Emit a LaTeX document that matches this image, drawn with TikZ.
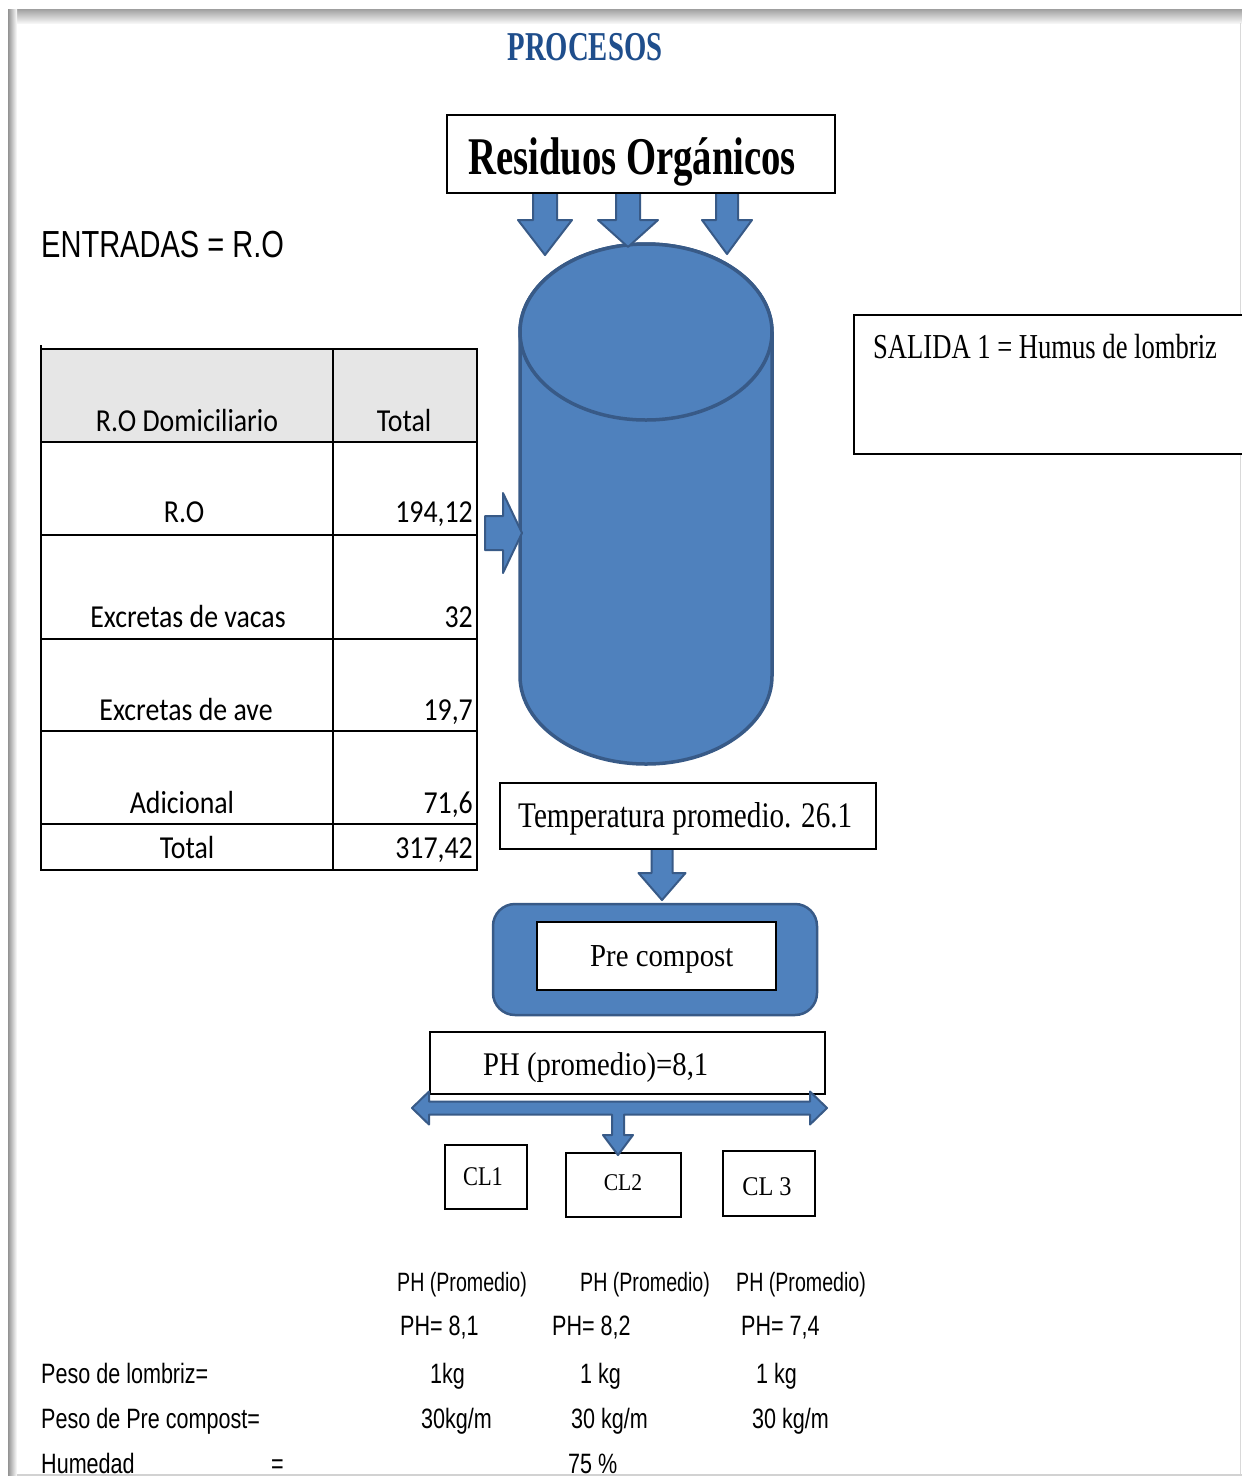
\documentclass[tikz,border=0pt]{standalone}
\usepackage{fontspec}
\usepackage{graphicx}
\setmainfont{Liberation Serif}
\newfontfamily\arialf{Liberation Sans}
\newfontfamily\calib{Carlito}
\usetikzlibrary{calc}
\definecolor{ofblue}{HTML}{4F81BD}
\definecolor{ofborder}{HTML}{385A87}
\definecolor{titblue}{HTML}{1F4E8C}
\definecolor{hdrgray}{HTML}{E6E6E6}
\newcommand\fs[1]{\fontsize{#1}{#1}\selectfont}
\newcommand\sx[2]{\scalebox{#1}[1]{#2}}
\newcommand\darrow[5]{\draw[blk] let \p1=(#1), \p2=(#2) in (\x1-#3pt,\y1) -- (\x1+#3pt,\y1) -- (\x1+#3pt,\y2+#5pt) -- (\x1+#4pt,\y2+#5pt) -- (\x2,\y2) -- (\x1-#4pt,\y2+#5pt) -- (\x1-#3pt,\y2+#5pt) -- cycle;}
\newcommand\rarrow[5]{\draw[blk] let \p1=(#1), \p2=(#2) in (\x1,\y1+#3pt) -- (\x2-#5pt,\y1+#3pt) -- (\x2-#5pt,\y1+#4pt) -- (\x2,\y2) -- (\x2-#5pt,\y1-#4pt) -- (\x2-#5pt,\y1-#3pt) -- (\x1,\y1-#3pt) -- cycle;}
\tikzset{
  box/.style={draw=black, line width=1.8pt, fill=white, inner sep=0pt},
  blk/.style={fill=ofblue, draw=ofborder, line width=2pt, line join=round},
  lbl/.style={inner sep=0pt, anchor=base west},
  lblc/.style={inner sep=0pt, anchor=base},
  lble/.style={inner sep=0pt, anchor=base east},
  bot/.style={inner sep=0pt, anchor=base west, font=\arialf\fs{28}},
}
\begin{document}
\begin{tikzpicture}[x=1pt,y=1pt]
\useasboundingbox (0,0) rectangle (1242,-1476);
\fill[white] (0,0) rectangle (1242,-1476);
% page edge
\shade[top color=gray!75, bottom color=gray!8] (8,-9) rectangle (1242,-23);
\shade[left color=gray!85, right color=white] (8,-9) rectangle (17,-1476);
\draw[gray!30, line width=1pt] (1240.5,-23) -- (1240.5,-1476);
\draw[gray!35, line width=1.5pt] (17,-1475) -- (1242,-1475);

% title
\node[lblc] (title) at (585,-60) {\fs{41}\bfseries\color{titblue}\sx{0.70}{PROCESOS}};

% entradas
\node[lbl] (ent) at (41,-257) {\arialf\fs{37.7}\sx{0.77}{ENTRADAS = R.O}};

% cylinder
\draw[fill=ofblue, draw=ofborder, line width=3.5pt] (520,-332) -- (520,-676)
  arc[start angle=180, end angle=360, x radius=126pt, y radius=88pt]
  -- (772,-332) arc[start angle=0, end angle=180, x radius=126pt, y radius=88pt] -- cycle;
\draw[fill=ofblue, draw=ofborder, line width=3.5pt] (646,-332) ellipse[x radius=126pt, y radius=88pt];
\coordinate (cyl) at (646,-500);

% arrows from Residuos box
\coordinate (a1s) at (545,-185); \coordinate (a1e) at (545,-255);
\coordinate (a2s) at (628,-185); \coordinate (a2e) at (628,-247);
\coordinate (a3s) at (727,-185); \coordinate (a3e) at (727,-254);
\darrow{a1s}{a1e}{12}{27}{35}
\darrow{a2s}{a2e}{12}{30}{27}
\darrow{a3s}{a3e}{11}{25}{34}

% Residuos box
\node[box, minimum width=388pt, minimum height=78pt] (res) at (641,-154) {};
\node[lbl] (resT) at (468,-174) {\fs{53}\bfseries\sx{0.73}{Residuos Orgánicos}};

% table
\fill[hdrgray] (41,-349) rectangle (477,-442);
\draw[line width=1.8pt] (41,-345) -- (41,-870) -- (477,-870) -- (477,-349) -- (41,-349);
\foreach \yy in {442,535,639,731,824} \draw[line width=1.8pt] (41,-\yy) -- (477,-\yy);
\draw[line width=1.8pt] (333,-349) -- (333,-870);
\node[lblc] (h1) at (187,-431) {\calib\fs{32}\sx{0.87}{R.O Domiciliario}};
\node[lblc] (h2) at (404,-431) {\calib\fs{32}\sx{0.87}{Total}};
\node[lblc] (r1) at (184,-522) {\calib\fs{32}\sx{0.87}{R.O}};
\node[lble] (v1) at (473,-522) {\calib\fs{32}\sx{0.87}{194,12}};
\node[lblc] (r2) at (188,-627) {\calib\fs{32}\sx{0.87}{Excretas de vacas}};
\node[lble] (v2) at (473,-627) {\calib\fs{32}\sx{0.87}{32}};
\node[lblc] (r3) at (186,-720) {\calib\fs{32}\sx{0.87}{Excretas de ave}};
\node[lble] (v3) at (473,-720) {\calib\fs{32}\sx{0.87}{19,7}};
\node[lblc] (r4) at (182,-813) {\calib\fs{32}\sx{0.87}{Adicional}};
\node[lble] (v4) at (473,-813) {\calib\fs{32}\sx{0.87}{71,6}};
\node[lblc] (r5) at (187,-858) {\calib\fs{32}\sx{0.87}{Total}};
\node[lble] (v5) at (473,-858) {\calib\fs{32}\sx{0.87}{317,42}};

% arrow into cylinder
\coordinate (inS) at (485,-533); \coordinate (inE) at (522,-533);
\rarrow{inS}{inE}{17}{40}{19}

% salida
\node[box, minimum width=396pt, minimum height=139pt] (sal) at (1052,-384.5) {};
\node[lbl] (salT) at (873,-358) {\fs{35}\sx{0.76}{SALIDA 1 = Humus de lombriz}};

% pre compost
\node[draw=ofborder, fill=ofblue, line width=2.5pt, rounded corners=22pt, minimum width=324pt, minimum height=111pt, inner sep=0pt] (pc) at (655,-959.5) {};
\node[box, minimum width=239pt, minimum height=68pt] (pcin) at (656.5,-956) {};
\node[lbl] (pcT) at (590,-966) {\fs{32}\sx{0.9}{Pre compost}};

% temperature
\coordinate (tS) at (662,-840); \coordinate (tE) at (662,-900);
\darrow{tS}{tE}{10.5}{23.5}{27}
\node[box, minimum width=376pt, minimum height=66pt] (temp) at (688,-816) {};
\node[lbl] (tempT) at (518,-827) {\fs{36}\sx{0.81}{Temperatura promedio. 26.1}};

% PH box
\node[box, minimum width=395pt, minimum height=62pt] (ph) at (627.5,-1063) {};
\node[lbl] (phT) at (483,-1075) {\fs{33}\sx{0.87}{PH (promedio)=8,1}};

% CL boxes
\node[box, minimum width=82pt, minimum height=64pt] (cl1) at (486,-1177) {};
\node[lblc] (cl1T) at (483,-1185) {\fs{27}\sx{0.83}{CL1}};
\node[box, minimum width=115pt, minimum height=64pt] (cl2) at (623.5,-1185) {};
\node[lblc] (cl2T) at (623,-1190) {\fs{24}\sx{0.9}{CL2}};
\node[box, minimum width=92pt, minimum height=65pt] (cl3) at (769,-1183.5) {};
\node[lblc] (cl3T) at (767,-1195) {\fs{27}\sx{0.9}{CL 3}};

% T double arrow
\coordinate (tL) at (412,-1108); \coordinate (tR) at (827,-1108); \coordinate (tD) at (618,-1155);
\draw[blk] let \p1=(tL), \p2=(tR), \p3=(tD) in
  (\x1,\y1) -- (\x1+17pt,\y1+16.5pt) -- (\x1+17pt,\y1+6.5pt) -- (\x2-17pt,\y1+6.5pt)
  -- (\x2-17pt,\y1+16.5pt) -- (\x2,\y2) -- (\x2-17pt,\y1-16.5pt) -- (\x2-17pt,\y1-6.5pt)
  -- (\x3+6pt,\y1-6.5pt) -- (\x3+6pt,\y3+20pt) -- (\x3+15pt,\y3+20pt) -- (\x3,\y3)
  -- (\x3-15pt,\y3+20pt) -- (\x3-6pt,\y3+20pt) -- (\x3-6pt,\y1-6.5pt)
  -- (\x1+17pt,\y1-6.5pt) -- (\x1+17pt,\y1-16.5pt) -- cycle;

% bottom data
\node[bot] (p1) at (397,-1291) {\fs{26.5}\sx{0.74}{PH (Promedio)}};
\node[bot] (p2) at (580,-1291) {\fs{26.5}\sx{0.74}{PH (Promedio)}};
\node[bot] (p3) at (736,-1291) {\fs{26.5}\sx{0.74}{PH (Promedio)}};
\node[bot] (q1) at (400,-1335) {\sx{0.77}{PH= 8,1}};
\node[bot] (q2) at (552,-1335) {\sx{0.77}{PH= 8,2}};
\node[bot] (q3) at (741,-1335) {\sx{0.77}{PH= 7,4}};
\node[bot] (w0) at (41,-1383) {\sx{0.77}{Peso de lombriz=}};
\node[bot] (w1) at (430,-1383) {\sx{0.77}{1kg}};
\node[bot] (w2) at (580,-1383) {\sx{0.77}{1 kg}};
\node[bot] (w3) at (756,-1383) {\sx{0.77}{1 kg}};
\node[bot] (c0) at (41,-1428) {\sx{0.77}{Peso de Pre compost=}};
\node[bot] (c1) at (421,-1428) {\sx{0.77}{30kg/m}};
\node[bot] (c2) at (571,-1428) {\sx{0.77}{30 kg/m}};
\node[bot] (c3) at (752,-1428) {\sx{0.77}{30 kg/m}};
\node[bot] (h0) at (41,-1473) {\sx{0.77}{Humedad}};
\node[bot] (he) at (271,-1473) {\sx{0.77}{=}};
\node[bot] (hv) at (568,-1473) {\sx{0.77}{75 \%}};
\end{tikzpicture}
\end{document}
